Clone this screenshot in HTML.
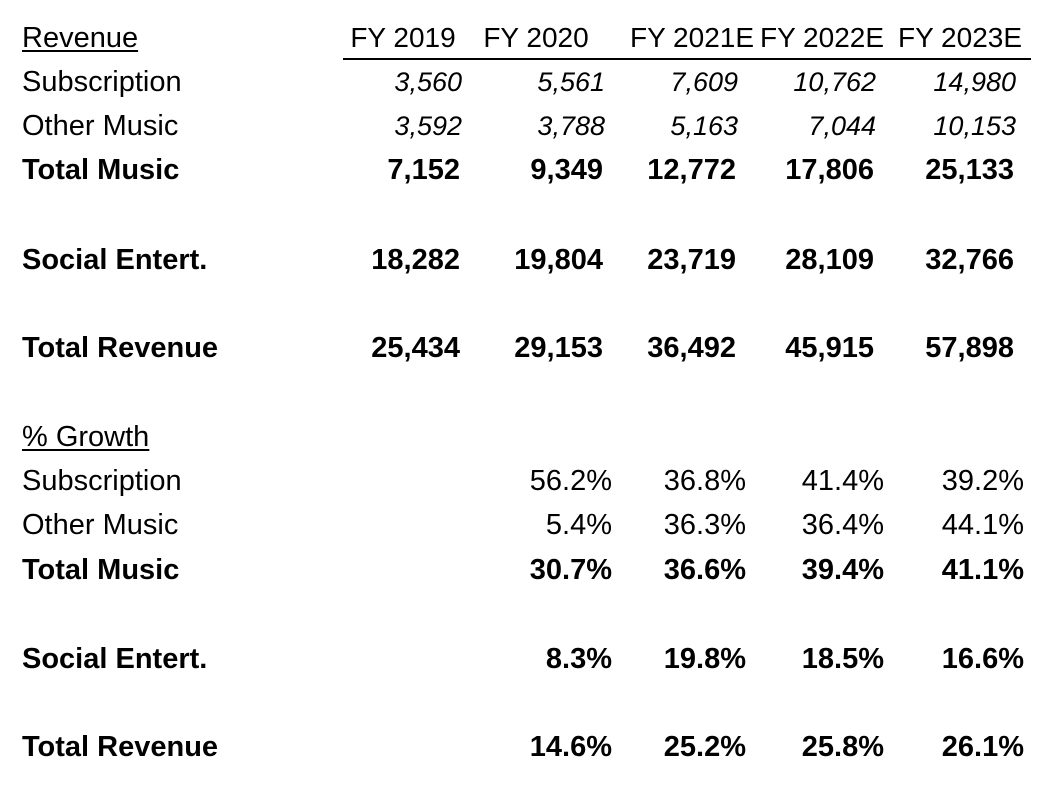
<!DOCTYPE html>
<html><head><meta charset="utf-8"><style>
body{margin:0;width:1051px;height:786px;background:#fff;position:relative;overflow:hidden;font-family:"Liberation Sans",Arial,sans-serif;color:#000}
.t{position:absolute;line-height:34px;height:34px;white-space:nowrap;font-size:29px}
.r{text-align:right}
.b{font-weight:bold}
.i{font-style:italic;font-size:27px}
.u{text-decoration:underline;text-underline-offset:3px;text-decoration-thickness:2px}
#hline{position:absolute;left:343px;top:58px;width:688px;height:2px;background:#000}
</style></head><body>
<div id="hline"></div>
<script>
const years=["FY 2019","FY 2020","FY 2021E","FY 2022E","FY 2023E"];
const subscription=["3,560","5,561","7,609","10,762","14,980"];
const otherMusic=["3,592","3,788","5,163","7,044","10,153"];
const totalMusic=["7,152","9,349","12,772","17,806","25,133"];
const socialEnt=["18,282","19,804","23,719","28,109","32,766"];
const totalRevenue=["25,434","29,153","36,492","45,915","57,898"];
const gSubscription=["56.2%","36.8%","41.4%","39.2%"];
const gOther=["5.4%","36.3%","36.4%","44.1%"];
const gTotalMusic=["30.7%","36.6%","39.4%","41.1%"];
const gSocial=["8.3%","19.8%","18.5%","16.6%"];
const gTotal=["14.6%","25.2%","25.8%","26.1%"];

const hdrCenters=[403,536,690,820,958];
const valRight=[460,603,736,874,1014];
const pctRight=[612,746,884,1024];
function add(text,cls,x,y,right,name){
  const d=document.createElement('div');
  d.className='t '+cls;
  d.textContent=text;
  d.style.top=(y-17)+'px';
  if(right){d.style.right=(1051-x)+'px';d.style.textAlign='right';}
  else d.style.left=x+'px';
  
  
  document.body.appendChild(d);
  return d;
}
years.forEach((y,i)=>{
  const d=add(y,'',0,38,false,'header-'+y.toLowerCase().replace(/ /g,'-'));
  d.style.left=(hdrCenters[i]-60)+'px';d.style.width='120px';d.style.textAlign='center';d.style.fontSize='28px';
});
const rows=[
 ["Revenue","u",38,null,null],
 ["Subscription","",82,subscription,"i"],
 ["Other Music","",126,otherMusic,"i"],
 ["Total Music","b",170,totalMusic,"b"],
 ["Social Entert.","b",260,socialEnt,"b"],
 ["Total Revenue","b",348,totalRevenue,"b"],
 ["% Growth","u",437,null,null],
 ["Subscription","",481,gSubscription,"p"],
 ["Other Music","",525,gOther,"p"],
 ["Total Music","b",570,gTotalMusic,"pb"],
 ["Social Entert.","b",659,gSocial,"pb"],
 ["Total Revenue","b",747,gTotal,"pb"]
];
rows.forEach(r=>{
  const slug=r[0].toLowerCase().replace(/[^a-z]+/g,'-').replace(/-$/,'');
  const pct=r[2]>400;
  add(r[0],r[1],22,r[2],false,(pct?'growth-':'')+slug+'-label');
  if(!r[3])return;
  r[3].forEach((v,i)=>{
    if(r[4]==='p'||r[4]==='pb') add(v,r[4]==='pb'?'b':'',pctRight[i],r[2],true,'growth-'+slug+'-'+i);
    else add(v,r[4],valRight[i]+(r[4]==='i'?2:0),r[2],true,slug+'-'+i);
  });
});
</script>
</body></html>
